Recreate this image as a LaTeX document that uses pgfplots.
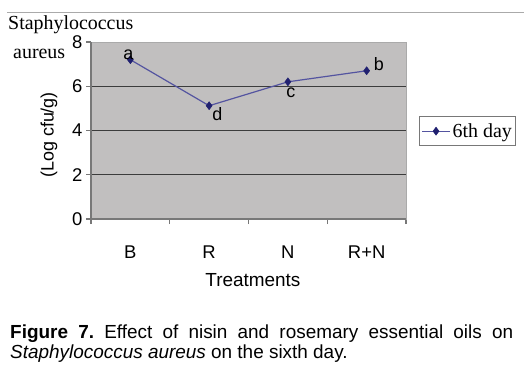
\documentclass[border=0pt]{standalone}
\usepackage{fontspec}
\setmainfont{Liberation Sans}
\newfontfamily\tnr{Liberation Serif}
\usepackage{pgfplots}
\pgfplotsset{compat=1.18}
\definecolor{plotbg}{RGB}{193,191,191}
\definecolor{linec}{RGB}{84,84,160}
\definecolor{markc}{RGB}{32,32,112}
\definecolor{gridc}{RGB}{60,60,60}
\definecolor{axisc}{RGB}{120,120,120}
\definecolor{borderc}{RGB}{170,170,170}
\frenchspacing
\begin{document}
\begin{tikzpicture}[x=1bp,y=1bp]
\useasboundingbox (0,0) rectangle (524,374);
\draw[borderc, line width=0.8bp] (7,362) -- (524,362);
\node[anchor=base west, inner sep=0, font=\tnr\fontsize{20}{20}\selectfont] at (8,345) {Staphylococcus};
\node[anchor=base west, inner sep=0, font=\tnr\fontsize{20}{20}\selectfont] at (13,316) {aureus};
\begin{axis}[
  at={(91bp,155bp)}, anchor=south west,
  scale only axis, width=315bp, height=177bp,
  xmin=-0.5, xmax=3.5, ymin=0, ymax=8,
  /pgf/number format/assume math mode=true,
  xtick={-0.5,0.5,1.5,2.5,3.5},
  xticklabels={B,R,N,R+N},
  x tick label as interval,
  ytick={0,2,4,6,8},
  extra y ticks={2,4,6},
  extra y tick labels={},
  extra y tick style={ymajorgrids=true, major tick length=0pt},
  xtick pos=bottom, ytick pos=left,
  tick align=outside, major tick length=5bp,
  tick style={axisc, line width=1.2bp},
  grid style={gridc, line width=1.3bp},
  axis line style={borderc, line width=1bp},
  axis background/.style={fill=plotbg},
  ticklabel style={font=\fontsize{18.5}{18.5}\selectfont},
  xticklabel style={anchor=center, yshift=-28bp},
  yticklabel style={xshift=0bp},
  xlabel={Treatments},
  ylabel={(Log cfu/g)},
  xlabel style={at={(axis description cs:0.514,-0.345)}, anchor=center, font=\fontsize{19}{19}\selectfont},
  ylabel style={at={(axis description cs:-0.133,0.475)}, anchor=center, font=\fontsize{18}{18}\selectfont},
  legend style={at={(1.041,0.582)}, anchor=north west, draw=axisc, line width=1bp,
    font=\tnr\fontsize{20}{20}\selectfont, inner xsep=2bp, inner ysep=5bp, row sep=0pt},
  legend image code/.code={\draw[mark repeat=2,mark phase=2,#1] plot coordinates {(0bp,0bp) (14bp,0bp) (28bp,0bp)};},
  after end axis/.code={
    \draw[axisc, line width=1.5bp] (rel axis cs:0,1) -- (rel axis cs:0,0) -- (rel axis cs:1,0);
  },
  clip=false,
  lab/.style={draw=none, mark=none, forget plot, point meta=explicit symbolic, nodes near coords,
    nodes near coords style={inner sep=1bp, text=black, font=\fontsize{18}{18}\selectfont, #1}},
]
\addplot[linec, line width=1.2bp, mark=diamond*, mark size=4bp,
  mark options={fill=markc, draw=markc, line width=0.5bp}]
  coordinates {(0,7.20) (1,5.12) (2,6.20) (3,6.70)};
\addlegendentry{6th day}
\addplot[lab={anchor=south, xshift=-2bp, yshift=-1bp}] coordinates {(0,7.20) [a]};
\addplot[lab={anchor=north west, xshift=2bp, yshift=-1bp}] coordinates {(1,5.12) [d]};
\addplot[lab={anchor=north, xshift=3bp, yshift=-5bp}] coordinates {(2,6.20) [c]};
\addplot[lab={anchor=south west, xshift=6bp, yshift=-1bp}] coordinates {(3,6.70) [b]};
\end{axis}
\node[anchor=base west, inner sep=0] at (10,36) {\parbox[t]{503bp}{\fontsize{19}{20.5}\selectfont\textbf{Figure 7.} Effect of nisin and rosemary essential oils on\linebreak \textit{Staphylococcus aureus} on the sixth day.}};
\end{tikzpicture}
\end{document}
